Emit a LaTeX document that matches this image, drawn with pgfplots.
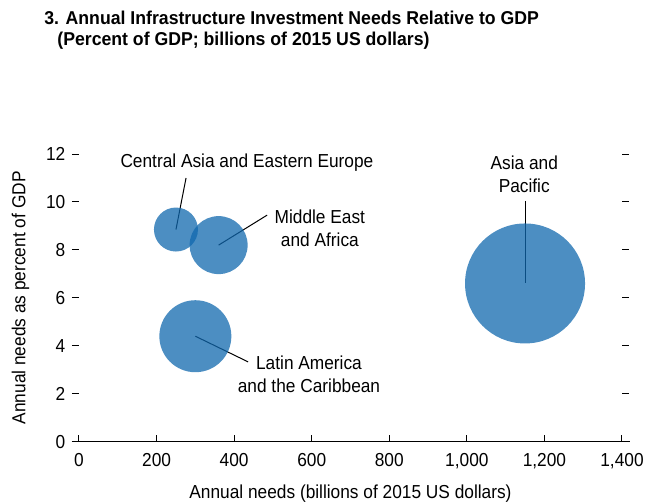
\documentclass[border=0pt]{standalone}
\usepackage{pgfplots}
\pgfplotsset{compat=1.18}
\usepackage{fontspec}
\setmainfont{Liberation Sans}[FakeStretch=0.92]
\newfontfamily\titlefont{Liberation Sans}[FakeStretch=0.95]
\definecolor{bub}{RGB}{16,104,174}
\begin{document}
\fontsize{9.4}{11.5}\selectfont
\begin{tikzpicture}
\useasboundingbox (0,0) rectangle (322.5pt,-252pt);
\node[anchor=base west,font=\titlefont\fontsize{9.3}{11}\selectfont\bfseries,inner sep=0pt] at (22pt,-12pt) {3. Annual Infrastructure Investment Needs Relative to GDP};
\node[anchor=base west,font=\titlefont\fontsize{9.3}{11}\selectfont\bfseries,inner sep=0pt] at (28.5pt,-22.5pt) {(Percent of GDP; billions of 2015 US dollars)};
\begin{axis}[
  at={(39.5pt,-220.85pt)}, anchor=south west,
  scale only axis, width=271.5pt, height=143.85pt,
  xmin=0,xmax=1400,ymin=0,ymax=12,
  xtick={0,200,...,1400}, ytick={0,2,...,12},
  separate axis lines, axis line style={draw=none},
  xtick pos=lower, xtick align=inside,
  ytick pos=both, ytick align=outside, yticklabel pos=lower,
  major tick length=3.5pt,
  tick style={black, line width=0.5pt},
  /pgf/number format/assume math mode=true,
  /pgf/number format/1000 sep={,},
  xlabel={Annual needs (billions of 2015 US dollars)},
  ylabel={Annual needs as percent of GDP},
  ticklabel style={font=\fontsize{9.4}{11.5}\selectfont},
  xticklabel style={yshift=-2.5pt},
  label style={font=\fontsize{9.4}{11.5}\selectfont},
  xlabel style={yshift=-1.5pt},
  ylabel style={yshift=2pt},
  clip=false,
]
\draw[black, line width=0.5pt] ([xshift=-3.5pt]rel axis cs:0,0) -- ([xshift=4pt]rel axis cs:1,0);
\addplot[draw=none, only marks, mark=*, mark size=11pt, mark options={draw opacity=0, fill=bub, fill opacity=0.75}] coordinates {(250,8.85)};
\addplot[draw=none, only marks, mark=*, mark size=14.5pt, mark options={draw opacity=0, fill=bub, fill opacity=0.75}] coordinates {(360,8.2)};
\addplot[draw=none, only marks, mark=*, mark size=18pt, mark options={draw opacity=0, fill=bub, fill opacity=0.75}] coordinates {(300,4.4)};
\addplot[draw=none, only marks, mark=*, mark size=30pt, mark options={draw opacity=0, fill=bub, fill opacity=0.75}] coordinates {(1150,6.6)};
\draw[black, line width=0.5pt] (axis cs:276,11.0) -- (axis cs:250,8.85);
\draw[black, line width=0.5pt] (axis cs:485,9.45) -- (axis cs:360,8.2);
\draw[black, line width=0.5pt] (axis cs:436,3.33) -- (axis cs:300,4.4);
\draw[black, line width=0.5pt] (axis cs:1150,10.04) -- (axis cs:1150,6.6);
\node[align=center] at (axis cs:433,11.66) {Central Asia and Eastern Europe};
\node[align=center] at (axis cs:621,8.9) {Middle East\\and Africa};
\node[align=center] at (axis cs:593,2.82) {Latin America\\and the Caribbean};
\node[align=center] at (axis cs:1148,11.16) {Asia and\\Pacific};
\end{axis}
\end{tikzpicture}
\end{document}
